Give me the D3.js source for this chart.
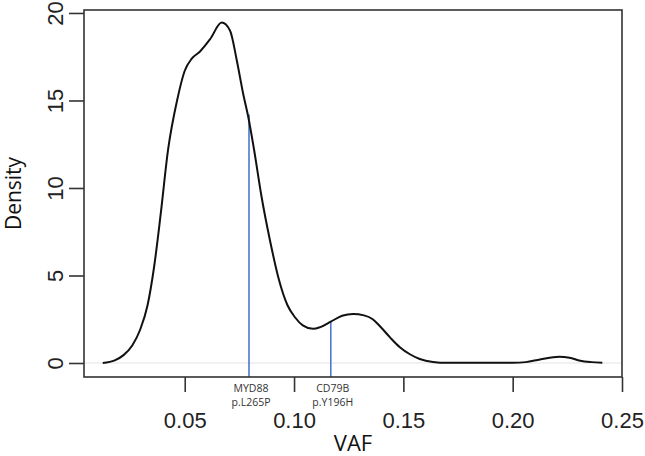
<!DOCTYPE html>
<html>
<head>
<meta charset="utf-8">
<script src="https://cdn.jsdelivr.net/npm/d3@7"></script>
<style>
  body { margin: 0; background: #fff; }
  svg { display: block; }
</style>
</head>
<body>
<div id="chart"></div>
<script>
// density curve of VAF
var vaf = [0.0125, 0.018, 0.022, 0.026, 0.0296, 0.033, 0.036, 0.039, 0.0424, 0.0465,
  0.05, 0.0533, 0.057, 0.0616, 0.0669, 0.0707, 0.0738, 0.0767, 0.079, 0.0817,
  0.085, 0.089, 0.093, 0.097, 0.1005, 0.104, 0.1087, 0.112, 0.1168, 0.122,
  0.127, 0.132, 0.136, 0.1393, 0.144, 0.1484, 0.153, 0.1575, 0.1635, 0.17,
  0.2, 0.206, 0.2125, 0.2212, 0.226, 0.2309, 0.236, 0.241];
var density = [0, 0.15, 0.45, 1.0, 1.9, 3.3, 5.5, 8.5, 12.2, 15.0,
  16.7, 17.4, 17.8, 18.5, 19.45, 19.0, 17.3, 15.4, 14.1, 12.2,
  9.6, 7.0, 4.8, 3.3, 2.6, 2.15, 1.95, 2.05, 2.36, 2.7,
  2.8, 2.72, 2.5, 2.1, 1.45, 0.9, 0.5, 0.23, 0.06, 0.01,
  0.01, 0.05, 0.2, 0.36, 0.3, 0.13, 0.05, 0.01];

var xTicks = [0.05, 0.10, 0.15, 0.20, 0.25];
var yTicks = [0, 5, 10, 15, 20];

var mutGene = ['MYD88', 'CD79B'];
var mutChange = ['p.L265P', 'p.Y196H'];
var mutVaf = [0.0794, 0.1168];
var mutDensity = [14.2, 2.36];

var width = 645, height = 456;
var box = {left: 84, right: 622, top: 10, bottom: 377};

var svg = d3.select('#chart').append('svg')
  .attr('width', width)
  .attr('height', height);

var x = d3.scaleLinear().domain([0.00393, 0.25]).range([box.left, box.right]);
var y = d3.scaleLinear().domain([-0.8, 20.17]).range([box.bottom, box.top]);

// zero line
svg.append('line')
  .attr('x1', box.left).attr('x2', box.right)
  .attr('y1', y(0)).attr('y2', y(0))
  .attr('stroke', '#e2e2e2').attr('stroke-width', 1);

// mutation markers
svg.selectAll('line.mut')
  .data(mutVaf)
  .enter().append('line')
  .attr('class', 'mut')
  .attr('x1', function(d) { return x(d); })
  .attr('x2', function(d) { return x(d); })
  .attr('y1', function(d, i) { return y(mutDensity[i]); })
  .attr('y2', box.bottom)
  .attr('stroke', '#4a78d0')
  .attr('stroke-width', 1.6);

// density curve
var line = d3.line()
  .x(function(d, i) { return x(vaf[i]); })
  .y(function(d) { return y(d); })
  .curve(d3.curveMonotoneX);

svg.append('path')
  .datum(density)
  .attr('d', line)
  .attr('fill', 'none')
  .attr('stroke', '#111')
  .attr('stroke-width', 2);

// box
svg.append('rect')
  .attr('x', box.left).attr('y', box.top)
  .attr('width', box.right - box.left)
  .attr('height', box.bottom - box.top)
  .attr('fill', 'none')
  .attr('stroke', '#333')
  .attr('stroke-width', 1.6);

// x axis
var xAxis = svg.append('g')
  .attr('transform', 'translate(0,' + box.bottom + ')')
  .call(d3.axisBottom(x).tickValues(xTicks).tickSize(15).tickPadding(20)
    .tickFormat(d3.format('.2f')));
xAxis.select('.domain').remove();
xAxis.selectAll('line').attr('stroke', '#333').attr('stroke-width', 1.6);
xAxis.selectAll('text')
  .attr('font-family', 'Liberation Sans, Arial, sans-serif')
  .attr('font-size', 22)
  .attr('fill', '#222');

// y axis
var yAxis = svg.append('g')
  .attr('transform', 'translate(' + box.left + ',0)')
  .call(d3.axisLeft(y).tickValues(yTicks).tickSize(15));
yAxis.select('.domain').remove();
yAxis.selectAll('line').attr('stroke', '#333').attr('stroke-width', 1.6);
yAxis.selectAll('text')
  .attr('x', 0).attr('dy', 0)
  .attr('text-anchor', 'middle')
  .attr('transform', 'translate(-21,0) rotate(-90)')
  .attr('font-family', 'Liberation Sans, Arial, sans-serif')
  .attr('font-size', 22)
  .attr('fill', '#222');

// mutation labels
var labels = svg.selectAll('text.mut')
  .data(mutVaf)
  .enter().append('text')
  .attr('class', 'mut')
  .attr('text-anchor', 'middle')
  .attr('font-family', 'Open Sans, sans-serif')
  .attr('font-size', 10.5)
  .attr('fill', '#333');
labels.append('tspan')
  .attr('x', function(d) { return x(d) + 2; })
  .attr('y', 392)
  .text(function(d, i) { return mutGene[i]; });
labels.append('tspan')
  .attr('x', function(d) { return x(d) + 2; })
  .attr('y', 406)
  .text(function(d, i) { return mutChange[i]; });

// axis titles
svg.append('text')
  .attr('x', (box.left + box.right) / 2)
  .attr('y', 451)
  .attr('text-anchor', 'middle')
  .attr('font-family', 'Open Sans, sans-serif')
  .attr('font-size', 22)
  .attr('fill', '#111')
  .text('VAF');

svg.append('text')
  .attr('transform', 'translate(21,' + (box.top + box.bottom) / 2 + ') rotate(-90)')
  .attr('text-anchor', 'middle')
  .attr('font-family', 'Open Sans, sans-serif')
  .attr('font-size', 21)
  .attr('fill', '#111')
  .text('Density');
</script>
</body>
</html>
